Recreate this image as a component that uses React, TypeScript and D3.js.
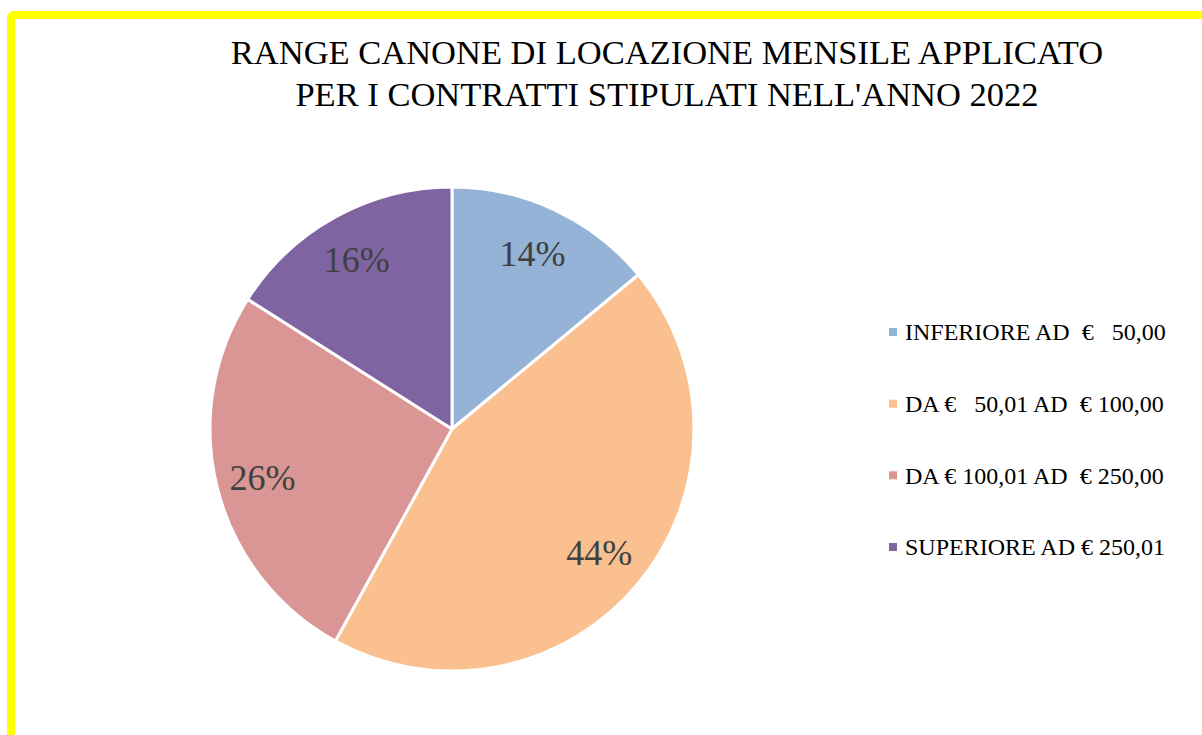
import React from "react";
import * as d3 from "d3";

const categories = [
  "INFERIORE AD  €   50,00",
  "DA €   50,01 AD  € 100,00",
  "DA € 100,01 AD  € 250,00",
  "SUPERIORE AD € 250,01",
];
const values = [14, 44, 26, 16];
const colors = ["#95B3D7", "#FAC090", "#D99694", "#8064A2"];
const titleLines = [
  "RANGE CANONE DI LOCAZIONE MENSILE APPLICATO",
  "PER I CONTRATTI STIPULATI NELL'ANNO 2022",
];

export default function App() {
  const width = 1202;
  const height = 735;
  const cx = 452;
  const cy = 429;
  const r = 242;

  // slices start at 12 o'clock, clockwise, in data order
  const pie = d3.pie<number>().sort(null).value((d) => d);
  const arcs = pie(values);
  const arc = d3.arc<d3.PieArcDatum<number>>().innerRadius(0).outerRadius(r);
  const labelArc = d3
    .arc<d3.PieArcDatum<number>>()
    .innerRadius(r * 0.8)
    .outerRadius(r * 0.8);

  const font = "Liberation Serif, Times New Roman, serif";

  // legend rows
  const legendY = d3
    .scalePoint<number>()
    .domain(d3.range(categories.length))
    .range([332, 547]);

  return (
    <svg
      width={width}
      height={height}
      style={{ position: "absolute", left: 0, top: 0, fontFamily: font }}
    >
      <rect width={width} height={height} fill="#ffffff" />
      <rect
        x={11}
        y={15}
        width={width + 20}
        height={height + 20}
        rx={3}
        fill="#ffffff"
        stroke="#FFFF00"
        strokeWidth={8}
      />

      {titleLines.map((t, i) => (
        <text
          key={i}
          x={667}
          y={64 + i * 42}
          textAnchor="middle"
          fontSize={34.5}
          fill="#000000"
        >
          {t}
        </text>
      ))}

      <g transform={`translate(${cx},${cy})`}>
        {arcs.map((a, i) => (
          <path
            key={i}
            d={arc(a) || ""}
            fill={colors[i]}
            stroke="#ffffff"
            strokeWidth={3}
            strokeLinejoin="round"
          />
        ))}
        {arcs.map((a, i) => {
          const [lx, ly] = labelArc.centroid(a);
          return (
            <text
              key={i}
              x={lx - 2}
              y={ly}
              dy="0.35em"
              textAnchor="middle"
              fontSize={36}
              fill="#404040"
            >
              {`${values[i]}%`}
            </text>
          );
        })}
      </g>

      {categories.map((c, i) => (
        <g key={i} transform={`translate(889,${legendY(i)})`}>
          <rect x={0} y={-4} width={8} height={8} fill={colors[i]} />
          <text
            x={16}
            y={0}
            dy="0.35em"
            fontSize={24}
            fill="#000000"
            style={{ whiteSpace: "pre" }}
          >
            {c}
          </text>
        </g>
      ))}
    </svg>
  );
}
